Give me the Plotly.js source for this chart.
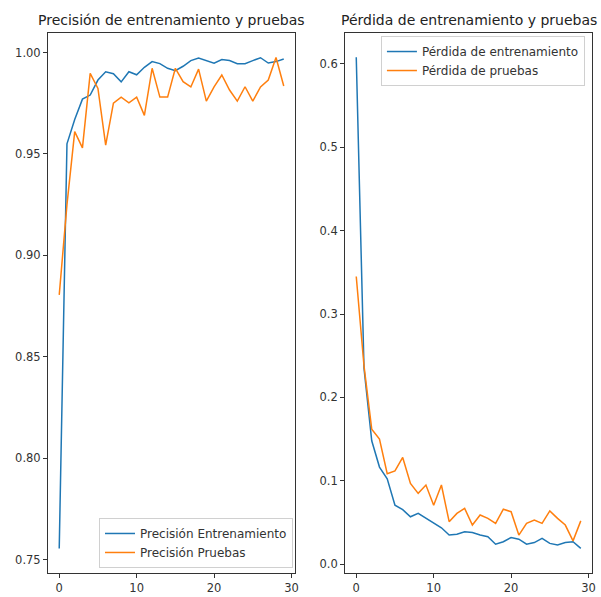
<!DOCTYPE html>
<html>
<head>
<meta charset="utf-8">
<script src="https://cdn.plot.ly/plotly-3.0.1.min.js"></script>
<style>html,body{margin:0;padding:0;background:#fff;}#chart{width:601px;height:597px;}</style>
</head>
<body>
<div id="chart"></div>
<script>
const epochs = [0,1,2,3,4,5,6,7,8,9,10,11,12,13,14,15,16,17,18,19,20,21,22,23,24,25,26,27,28,29];
const accTrain = [0.7555,0.955,0.967,0.977,0.979,0.9864,0.9905,0.9895,0.9855,0.9905,0.989,0.9927,0.9955,0.9945,0.9922,0.991,0.9932,0.996,0.9972,0.996,0.9947,0.9965,0.996,0.9945,0.9945,0.996,0.9974,0.9948,0.9955,0.9968];
const accVal = [0.8805,0.925,0.961,0.953,0.9897,0.9823,0.9543,0.975,0.978,0.9752,0.978,0.969,0.9922,0.978,0.978,0.9922,0.9856,0.983,0.9918,0.976,0.983,0.9889,0.9815,0.976,0.9831,0.976,0.983,0.9864,0.9975,0.9835];
const lossTrain = [0.608,0.235,0.148,0.1165,0.1025,0.0708,0.0655,0.0569,0.061,0.055,0.049,0.0437,0.035,0.036,0.039,0.038,0.035,0.033,0.024,0.027,0.032,0.030,0.024,0.026,0.031,0.025,0.023,0.026,0.027,0.019];
const lossVal = [0.345,0.238,0.162,0.150,0.1086,0.112,0.128,0.097,0.085,0.095,0.0708,0.095,0.051,0.061,0.067,0.047,0.059,0.055,0.049,0.066,0.063,0.035,0.049,0.053,0.049,0.064,0.055,0.047,0.028,0.052];
const names = ['Precisión Entrenamiento','Precisión Pruebas','Pérdida de entrenamiento','Pérdida de pruebas'];
const titles = ['Precisión de entrenamiento y pruebas','Pérdida de entrenamiento y pruebas'];

const BLUE = '#1f77b4', ORANGE = '#ff7f0e';
const FONT = 'DejaVu Sans, sans-serif';

const traces = [
  {x: epochs, y: accTrain, name: names[0], type: 'scatter', mode: 'lines', line: {color: BLUE, width: 1.5}, xaxis: 'x', yaxis: 'y', legend: 'legend'},
  {x: epochs, y: accVal, name: names[1], type: 'scatter', mode: 'lines', line: {color: ORANGE, width: 1.5}, xaxis: 'x', yaxis: 'y', legend: 'legend'},
  {x: epochs, y: lossTrain, name: names[2], type: 'scatter', mode: 'lines', line: {color: BLUE, width: 1.5}, xaxis: 'x2', yaxis: 'y2', legend: 'legend2'},
  {x: epochs, y: lossVal, name: names[3], type: 'scatter', mode: 'lines', line: {color: ORANGE, width: 1.5}, xaxis: 'x2', yaxis: 'y2', legend: 'legend2'}
];

const axisBase = {
  showline: true, mirror: true, linecolor: '#333', linewidth: 1,
  ticks: 'outside', ticklen: 4, tickwidth: 1, tickcolor: '#333',
  showgrid: false, zeroline: false,
  tickfont: {family: FONT, size: 11.5, color: '#333'}
};

const legendBase = {
  font: {family: FONT, size: 12, color: '#333'},
  bgcolor: 'rgba(255,255,255,0.8)', bordercolor: '#d0d0d0', borderwidth: 1,
  xref: 'paper', yref: 'paper'
};

const layout = {
  width: 601, height: 597,
  margin: {l: 48, r: 9, t: 33, b: 24},
  paper_bgcolor: '#fff', plot_bgcolor: '#fff',
  font: {family: FONT},
  xaxis: Object.assign({}, axisBase, {domain: [0, 0.454], range: [-1.45, 30.45], tick0: 0, dtick: 10, anchor: 'y'}),
  yaxis: Object.assign({}, axisBase, {domain: [0, 1], range: [0.7434, 1.0096], tick0: 0, dtick: 0.05, tickformat: '.2f', anchor: 'x'}),
  xaxis2: Object.assign({}, axisBase, {domain: [0.546, 1], range: [-1.45, 30.45], tick0: 0, dtick: 10, anchor: 'y2'}),
  yaxis2: Object.assign({}, axisBase, {domain: [0, 1], range: [-0.0105, 0.637], tick0: 0, dtick: 0.1, tickformat: '.1f', anchor: 'x2'}),
  legend: Object.assign({}, legendBase, {x: 0.4504, y: 0.0093, xanchor: 'right', yanchor: 'bottom'}),
  legend2: Object.assign({}, legendBase, {x: 0.987, y: 0.9944, xanchor: 'right', yanchor: 'top'}),
  showlegend: true,
  annotations: [
    {text: titles[0], xref: 'paper', yref: 'paper', x: 0.227, y: 1.024, xanchor: 'center', yanchor: 'middle', showarrow: false, font: {family: FONT, size: 14, color: '#222'}},
    {text: titles[1], xref: 'paper', yref: 'paper', x: 0.773, y: 1.024, xanchor: 'center', yanchor: 'middle', showarrow: false, font: {family: FONT, size: 14, color: '#222'}}
  ]
};

Plotly.newPlot('chart', traces, layout, {displayModeBar: false, staticPlot: true});
</script>
</body>
</html>
